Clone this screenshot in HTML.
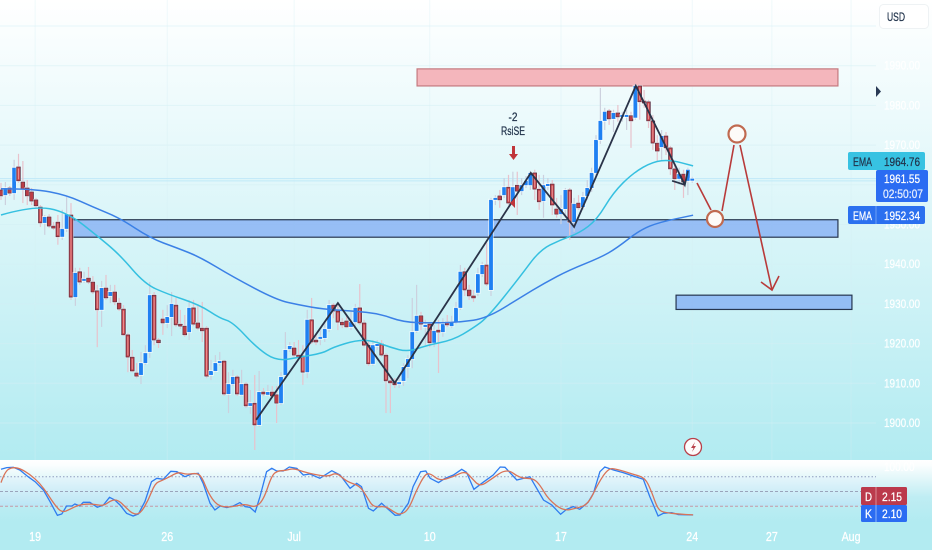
<!DOCTYPE html>
<html lang="en">
<head>
<meta charset="utf-8">
<title>Gold price chart with EMA and Stochastic</title>
<style>
html,body{margin:0;padding:0;width:932px;height:550px;overflow:hidden;background:#fff}
#wrap{position:relative;width:932px;height:550px;background:linear-gradient(180deg,#ffffff 0,#e8f9fb 140px,#cdf2f6 300px,#b2ebf1 460px,#b2ebf1 550px)}
svg{position:absolute;left:0;top:0;filter:blur(0.35px)}
text{font-family:"Liberation Sans",sans-serif;font-size:12px}
.dk text{stroke:#22344c;stroke-width:.25px}
.wh text{stroke:#ffffff;stroke-width:.25px}
</style>
</head>
<body>
<div id="wrap">
<svg id="chart" width="932" height="550" viewBox="0 0 932 550">
  <defs>
    <linearGradient id="paneGrad" x1="0" y1="0" x2="0" y2="1">
      <stop offset="0" stop-color="#ffffff"/>
      <stop offset="0.08" stop-color="#fbfefe"/>
      <stop offset="0.6" stop-color="#bfedf3"/>
      <stop offset="1" stop-color="#b2ebf1"/>
    </linearGradient>
    <linearGradient id="bandGrad" x1="0" y1="0" x2="0" y2="1">
      <stop offset="0" stop-color="#e4f5fb"/>
      <stop offset="1" stop-color="#bbe6f5"/>
    </linearGradient>
  </defs>
  <rect x="0" y="460" width="932" height="62" fill="url(#paneGrad)"/>
  <rect x="0" y="477" width="876" height="29" fill="url(#bandGrad)"/>
  <g id="grid"></g>
  <g id="priceLines"></g>
  <g id="zones"></g>
  <g id="candles"></g>
  <g id="emas"></g>
  <g id="zigzags"></g>
  <g id="osc"></g>
  <g id="priceAxis" class="wh"></g>
  <g id="timeAxis" class="wh"></g>

  <g fill="none" stroke="#b83a3a" stroke-width="1.6">
    <line x1="697" y1="183" x2="711" y2="210"/>
    <line x1="722" y1="211" x2="734" y2="145"/>
    <line x1="740" y1="145" x2="772" y2="290"/>
    <polyline points="761,282 772,290 779,276"/>
    <circle cx="715" cy="219" r="8" fill="#fdfbf8" stroke="#c06a50" stroke-width="2.2"/>
    <circle cx="737" cy="134" r="8.5" fill="#fdfbf8" stroke="#c06a50" stroke-width="2.2"/>
  </g>

  <g class="dk">
    <text x="513" y="121" text-anchor="middle" fill="#22344c" textLength="9" lengthAdjust="spacingAndGlyphs">-2</text>
    <text x="513" y="135" text-anchor="middle" fill="#22344c" textLength="24" lengthAdjust="spacingAndGlyphs">RsiSE</text>
    <path d="M512 146h3v8h3l-4.500 6l-4.500-6h3z" fill="#c0353a"/>
    <path d="M515 198v10l-5-5z" fill="#c0353a"/>
  </g>

  <g>
    <circle cx="693" cy="447" r="8.500" fill="#fdfbfb" stroke="#b8404a" stroke-width="1.3"/>
    <path d="M695 442l-4 6h2.500l-1.500 4l4-6h-2.500z" fill="#b8404a"/>
  </g>

  <path d="M876 86l5 5.500l-5 5.500z" fill="#2a3a55"/>

  <g class="dk">
    <rect x="879.500" y="4.500" width="49" height="24" rx="4" fill="#fff" stroke="#eef2f4" style="stroke:#eef2f4"/>
    <text x="887" y="21" fill="#22344c" textLength="18" lengthAdjust="spacingAndGlyphs">USD</text>
  </g>

  <g class="dk">
    <rect x="848" y="152" width="77" height="18" rx="2" fill="#37c2e2"/>
    <text x="853" y="166" fill="#22344c" textLength="19" lengthAdjust="spacingAndGlyphs">EMA</text>
    <text x="884" y="166" fill="#22344c" textLength="36" lengthAdjust="spacingAndGlyphs">1964.76</text>
  </g>
  <g class="wh">
    <rect x="848" y="206" width="77" height="18" rx="2" fill="#2b70ef"/>
    <line x1="876" y1="206" x2="876" y2="224" stroke="#6ea0f5"/>
    <text x="853" y="220" fill="#fff" textLength="19" lengthAdjust="spacingAndGlyphs">EMA</text>
    <text x="884" y="220" fill="#fff" textLength="36" lengthAdjust="spacingAndGlyphs">1952.34</text>
  </g>
  <g class="wh">
    <rect x="876" y="170" width="52" height="32" rx="2" fill="#2b6cf2"/>
    <text x="884" y="183" fill="#fff" textLength="36" lengthAdjust="spacingAndGlyphs">1961.55</text>
    <text x="883" y="198" fill="#d6e4fd" textLength="40" lengthAdjust="spacingAndGlyphs">02:50:07</text>
  </g>
  <g class="wh">
    <rect x="861" y="487" width="46" height="18" rx="1.500" fill="#bb3a4c"/>
    <line x1="876" y1="487" x2="876" y2="505" stroke="#d98a95"/>
    <text x="865" y="501" fill="#fff" textLength="7" lengthAdjust="spacingAndGlyphs">D</text>
    <text x="882" y="501" fill="#fff" textLength="20" lengthAdjust="spacingAndGlyphs">2.15</text>
  </g>
  <g class="wh">
    <rect x="861" y="505" width="46" height="17" rx="1.500" fill="#2b6cf2"/>
    <line x1="876" y1="505" x2="876" y2="522" stroke="#8db3f8"/>
    <text x="865" y="518" fill="#fff" textLength="7" lengthAdjust="spacingAndGlyphs">K</text>
    <text x="882" y="518" fill="#fff" textLength="20" lengthAdjust="spacingAndGlyphs">2.10</text>
  </g>
</svg>
</div>
<script>
var opens=[
1958.7,1957.4,1959.2,1957.9,1964.5,1960.7,1959.2,1958.2,1956.2,1954.4,
1950.4,1951.9,1949.6,1950.6,1946.9,1948.9,1952.4,1931.7,1938.1,1935.8,
1936.5,1935.5,1933.3,1928.5,1934,1932,1933,1930.2,1928.7,1922.2,
1916.6,1912.6,1912.1,1915.1,1917.9,1932.2,1920.9,1926.2,1925.2,1926.7,
1929.7,1924.9,1924.4,1922.9,1929,1925.2,1923.9,1923.9,1912.1,1913.1,
1915.1,1915.6,1907.3,1909.8,1911.6,1907.1,1909.8,1904.3,1905,1899.5,
1907.8,1907.1,1907.8,1907.1,1905,1912.1,1918.6,1918.9,1917.1,1916.9,
1912.8,1926,1920.9,1921.2,1921.4,1923.7,1929.7,1928.2,1925.4,1925.7,
1924.2,1925.4,1929,1925.2,1919.6,1914.9,1919.4,1919.9,1917.1,1910.6,
1910.3,1910.1,1910.6,1914.1,1916.1,1923.2,1927,1924.2,1924.9,1920.2,
1923.4,1922.9,1925.4,1924.4,1925.4,1929,1938.1,1933.5,1932,1932.8,
1937.5,1939.8,1933.5,1956.2,1957.2,1957.4,1959.4,1955.7,1959.9,1958.4,
1959.9,1959.9,1963,1958.9,1955.9,1959.9,1960.2,1953.9,1952.6,1953.9,
1958.7,1950.6,1955.4,1954.4,1957.2,1959.2,1963,1971.3,1976.1,1978.6,
1976.6,1978.1,1977.1,1977.1,1977.4,1976.9,1984.9,1981.1,1980.9,1976.1,
1970.5,1969.5,1972.3,1969.3,1964,1961.5,1962.7,1961,1961.3];
var closes=[
1957.2,1959.2,1957.9,1964.3,1961,1958.9,1957.2,1955.9,1954.7,1950.4,
1951.9,1949.6,1949.1,1946.9,1948.9,1952.6,1931.7,1937.8,1935.5,1936.3,
1935.5,1933,1928.5,1934,1931.5,1933,1930.5,1928.7,1922.2,1916.6,
1913.1,1911.8,1915.1,1917.6,1932.2,1920.9,1920.2,1925.2,1926.7,1930,
1924.7,1924.4,1922.2,1929,1924.9,1923.9,1923.2,1911.8,1913.1,1915.1,
1915.6,1907.3,1909.8,1911.6,1907.3,1909.8,1904.3,1905,1899.5,1907.8,
1907.3,1907.8,1906.8,1905,1911.6,1918.4,1919.4,1917.1,1916.6,1912.8,
1926,1920.4,1920.4,1921.7,1923.7,1929.7,1928.2,1925.4,1924.7,1924.2,
1925.4,1929,1925.2,1919.6,1914.9,1919.6,1919.9,1917.1,1910.6,1910.1,
1909.6,1910.3,1914.1,1916.1,1922.9,1927,1924.9,1924.7,1920.2,1923.2,
1922.9,1924.9,1924.7,1925.4,1929,1938.1,1933.5,1932,1931.5,1937.5,
1939.8,1935,1956.2,1956.7,1956.2,1959.4,1955.4,1959.4,1958.4,1959.9,
1961,1963,1958.9,1955.7,1959.9,1960.2,1954.9,1952.6,1953.9,1958.7,
1950.6,1955.2,1954.2,1956.9,1959.2,1963,1971.3,1976.1,1978.4,1976.6,
1978.1,1977.1,1977.6,1977.6,1976.1,1984.9,1980.9,1980.6,1976.1,1970.5,
1968.5,1972.3,1969.3,1964,1961.5,1962.7,1960.7,1963.8,1961.55];
var highs=[
1960.5,1960.7,1959.7,1966.3,1967.8,1966,1961.2,1959.2,1956.7,1954.9,
1952.4,1952.6,1950.6,1952.4,1953.7,1956.9,1955.4,1939.1,1939.1,1938.1,
1939.3,1937,1934.8,1935.8,1937.3,1934.8,1934.8,1931.5,1929.7,1922.7,
1918.4,1915.1,1917.9,1919.6,1935.5,1933,1921.4,1928.5,1929.7,1933,
1931.5,1928.5,1927.2,1931,1931,1929.7,1930.5,1924.4,1915.9,1917.1,
1917.9,1915.9,1912.8,1913.4,1912.1,1913.4,1910.3,1908.3,1912.1,1913.1,
1908.8,1909.6,1909.3,1909.3,1912.8,1922.9,1920.4,1920.4,1920.9,1919.6,
1928.5,1931.5,1922.2,1923.4,1925.4,1931,1930.2,1929.7,1926.4,1926.9,
1928,1930,1935,1926,1920.9,1920.9,1920.9,1920.9,1917.6,1911.8,
1911.3,1912.1,1915.1,1917.1,1931.5,1934.8,1928,1926,1925.4,1924.7,
1926,1926.4,1927.2,1927,1930.5,1939.8,1939.1,1934.8,1933.5,1939.1,
1940.6,1945.4,1956.7,1957.4,1958.7,1961.7,1962.5,1963.3,1963.3,1961.7,
1962.2,1963.5,1963.8,1962.5,1962.5,1961.7,1961.2,1956.7,1957.4,1959.2,
1959.2,1956.7,1957.4,1958.2,1961.2,1964.3,1972.5,1984.4,1979.4,1979.1,
1978.9,1980.1,1978.4,1978.9,1978.4,1985.4,1985.4,1983.9,1981.4,1977.6,
1972.5,1973.8,1973.3,1969.8,1965,1964.3,1963.8,1964.3,1962];
var lows=[
1956.2,1954.9,1957.2,1956.2,1960.5,1955.4,1954.9,1954.9,1954.2,1949.4,
1947.4,1949.1,1948.6,1944.9,1946.1,1948.1,1931,1929.5,1934.8,1935.3,
1935,1932.5,1919.1,1924.2,1931,1930.2,1929.7,1928.2,1921.9,1912.8,
1912.8,1911.3,1909.8,1914.6,1916.4,1919.6,1918.9,1922.2,1923.9,1921.9,
1924.2,1923.7,1921.7,1920.9,1924.4,1923.4,1920.4,1911.3,1910.8,1912.8,
1914.4,1906.8,1902.5,1909.3,1906.8,1906.8,1903.8,1902.3,1893.2,1899,
1906.8,1906.8,1906.3,1900,1904.5,1911.3,1917.9,1916.4,1916.1,1909.6,
1911.3,1919.9,1919.6,1919.6,1920.4,1922.9,1926.4,1923.4,1923.9,1923.9,
1923.4,1924.4,1924.7,1919.1,1914.4,1914.4,1918.4,1916.6,1902.5,1902.5,
1908.8,1908.8,1909.3,1911.3,1913.8,1922.7,1923.4,1919.6,1919.1,1919.1,
1912.6,1921.7,1924.2,1923.9,1924.9,1928.5,1932,1931,1930.5,1932,
1936.8,1934.5,1932,1954.9,1954.2,1956.7,1954.9,1954.9,1952.4,1957.4,
1959.2,1958.7,1956.2,1953.7,1951.7,1958.7,1952.4,1951.7,1950.1,1952.4,
1946.1,1948.1,1953.7,1953.7,1956.2,1958.2,1962.2,1970.3,1973.8,1975.1,
1973.3,1975.9,1975.9,1973.8,1969.3,1976.4,1976.4,1979.4,1974.3,1968.8,
1965.8,1966.3,1967.5,1962.5,1958.7,1960,1956.7,1957.4,1960.5];

var emaFastBars=[0,7.3,15,22.6,27.2,32.9,38,45.5,50,53,58.5,63,68.3,73.6,75.9,81.4,85,88.9,93,97.4,103.3,107.9,111.3,118.6,123.2,127.8,132.3,136.2,139.9,144.5,149,152.9,158.2];
var emaFastValues=[1952.4,1954.7,1953.2,1946.6,1942.3,1935,1932.5,1929.7,1926.4,1925.4,1918.9,1915.6,1916.6,1917.6,1919.1,1920.9,1920.7,1919.1,1917.9,1919.6,1920.9,1923.9,1926.7,1936.8,1943.6,1946.1,1947.9,1951.2,1958,1963,1965.8,1966.3,1964.76];
var emaSlowBars=[0,7.3,15,21,27.2,34.1,40.2,45.5,53,63,68.3,73.6,80.5,86.6,91.9,98.7,104.9,111,118.6,124.3,130,136.9,140.8,146,150.6,158.2];
var emaSlowValues=[1959,1959,1957.4,1954.4,1951.6,1946.6,1944.1,1941.8,1936.8,1931,1929.7,1928.7,1928.2,1927.5,1925.4,1925.2,1925.4,1926.4,1931.5,1935.3,1938.6,1941.6,1944.1,1948.6,1950.6,1952.34];

var kBars=[0,1.3,2.8,4.3,6.2,7.8,9.7,11.2,12.9,13.9,15,16.2,16.9,18,18.8,20.3,22,23.4,24.8,26,27.2,28.7,30.2,31.4,32.9,34.4,35.6,37.1,38.8,40.2,42,43.6,45.1,46.2,47.8,48.9,50.1,51.6,53.1,54.6,55.8,56.9,58.1,59.2,60.7,61.9,63,64.5,65.9,67.6,69.1,70.6,72.9,75.6,77.5,79.8,81.3,82.4,84,85.1,87,88.5,90.1,91.2,93.1,94.2,95.9,97.1,98.1,100,101.5,103.4,105.3,106.4,108.1,110.2,112.5,114.1,115.2,117.9,120.9,124,125.9,127.9,129.3,130.8,132.3,134.2,135.4,136.9,138,140,142.2,144.5,146.8,148.3,150.2,151.4,153.3,154.8,158.2];
var kValues=[95.3,98.7,99.3,93.9,80.3,70.1,53.1,29.3,1.4,4.1,20.5,20.5,24.5,20.5,28,28,17.7,22.5,38.1,32.7,22.5,5.5,0,4.1,29.3,70.1,76.9,74.9,91.2,90.5,80.3,85.7,87.1,66.7,25.9,12.3,20.5,17.1,20.5,27.3,19.1,17.7,8.2,39.5,90.5,97.3,91.9,91.9,100,97.3,83.7,85.7,76.9,92.5,83.7,56.5,66.7,59.9,15.7,10.3,25.9,13.7,1.4,2.1,25.9,59.9,90.5,91.9,76.9,68.1,76.9,83.7,95.3,89.1,54.5,68.7,83.7,100,99.3,73.5,80.3,32.7,22.5,3.5,13.7,19.1,13.7,28,46.3,90.5,100,93.9,88.5,81.7,74.9,39.5,0,5.5,6.9,2.8,2.1];
var dBars=[0,0.9,2.4,4.3,6.6,8.9,10.8,12.3,13.9,15.8,17.7,19.6,21.5,23.4,25.3,26.8,28.7,30.2,31.8,33.7,35.2,36.7,38.6,40.5,42.4,44.7,45.9,47.4,49.3,51.6,53.9,55.8,58.1,60,61.9,63.4,64.9,66.8,69.1,71.4,74.8,76.7,79,82,83.6,85.1,87.8,89.7,91.2,93.1,95,96.9,98.1,100.3,103.4,106.1,107.6,109.5,111.8,115.6,118.6,121.7,123.2,125.1,128.5,131.6,134.2,136.5,138.8,140.7,144.5,147.2,148.7,150.2,151.8,154.8,158.2];
var dValues=[68.1,90.5,99.3,97.3,85.1,66.7,42.9,22.5,6.9,13.7,22.5,24.5,23.9,20.5,32.7,32.7,15.7,4.1,4.1,32.7,66.7,72.1,80.3,89.8,84.4,87.8,80.3,46.3,22.5,17.7,20.5,24.5,17.1,32.7,83.7,92.5,92.5,97.3,90.5,85.1,80.3,89.1,70.1,61.9,39.5,17.1,20.5,8.9,2.1,12.3,53.1,85.1,87.1,71.5,80.3,91.9,76.9,59.9,73.5,97.3,76.9,76.9,63.3,34.1,10.3,15.7,23.9,66.7,97.3,96,85.1,78.3,49.7,12.3,6.9,4.1,2.15];
var oscLevels=[80,50,20];

var priceTicks=[2000,1990,1980,1970,1960,1950,1940,1930,1920,1910,1900];
var priceLabels=["","1990.00","1980.00","1970.00","","1950.00","1940.00","1930.00","1920.00","1910.00","1900.00"];
var timeTickBars=[7.8,38,67,98,128,158,176.2,194.3];
var timeLabels=["19","26","Jul","10","17","24","27","Aug"];
var lastPrice=1961.55;
var prevPrice=1961;

var zoneBarStart=[95.1,16.2,154.3];
var zoneBarEnd=[191.3,191.3,194.5];
var zoneTop=[1989.2,1951.2,1932.2];
var zoneBottom=[1984.9,1946.8,1928.6];
var zoneFill=["#f4b6bc","#7da9f4","#7da9f4"];
var zoneStroke=["#c47a80","#263650","#263650"];
var zoneOpacity=[1,0.72,0.72];

var zigzagBars=[58.3,77,90,121.1,131,145.1,156.3,157];
var zigzagPrices=[1900.8,1930.2,1910.1,1963,1949.4,1984.9,1960,1963.5];
var hookBars=[153.4,156.3];
var hookPrices=[1961,1960];

var NS='http://www.w3.org/2000/svg';
function xScale(bar){return 1+bar*4.375;}
function yScale(price){return 423-(price-1900)*3.97;}
function oscY(v){return 516-v*0.49;}
function mk(tag,parent){var e=document.createElementNS(NS,tag);parent.appendChild(e);return e;}
function attrs(e,o){for(var k in o){e.setAttribute(k,o[k]);}return e;}
function pathFrom(bars,vals,yFn){
  var d='';
  for(var i=0;i<bars.length;i++){d+=(i?'L':'M')+xScale(bars[i]).toFixed(1)+' '+yFn(vals[i]).toFixed(1);}
  return d;
}
function smoothFrom(bars,vals,yFn){
  var n=bars.length;
  var d='M'+xScale(bars[0]).toFixed(1)+' '+yFn(vals[0]).toFixed(1);
  for(var i=1;i<n-1;i++){
    var x=xScale(bars[i]),y=yFn(vals[i]);
    var mx=(x+xScale(bars[i+1]))/2,my=(y+yFn(vals[i+1]))/2;
    d+='Q'+x.toFixed(1)+' '+y.toFixed(1)+' '+mx.toFixed(1)+' '+my.toFixed(1);
  }
  d+='L'+xScale(bars[n-1]).toFixed(1)+' '+yFn(vals[n-1]).toFixed(1);
  return d;
}
function condense(t,f){
  var w=t.getComputedTextLength()*f;
  t.setAttribute('textLength',w.toFixed(1));
  t.setAttribute('lengthAdjust','spacingAndGlyphs');
}

var grid=document.getElementById('grid');
priceTicks.forEach(function(p){
  var l=mk('line',grid);
  
  
  attrs(l,{x1:0,x2:876,y1:yScale(p),y2:yScale(p),stroke:'#d4eff4','stroke-opacity':0.55,'stroke-width':1});
});
timeTickBars.forEach(function(b){
  var l=mk('line',grid);
  
  
  attrs(l,{x1:xScale(b),x2:xScale(b),y1:0,y2:460,stroke:'#d4eff4','stroke-opacity':0.35,'stroke-width':1});
});
[lastPrice,prevPrice].forEach(function(p){
  var l=mk('line',document.getElementById('priceLines'));
  
  
  attrs(l,{x1:0,x2:876,y1:yScale(p),y2:yScale(p),stroke:'#bfe9f8','stroke-width':1});
});

var zonesG=document.getElementById('zones');
zoneTop.forEach(function(t,i){
  var r=mk('rect',zonesG);
  
  
  attrs(r,{x:xScale(zoneBarStart[i]),y:yScale(t),width:xScale(zoneBarEnd[i])-xScale(zoneBarStart[i]),height:yScale(zoneBottom[i])-yScale(t),fill:zoneFill[i],'fill-opacity':zoneOpacity[i]});
  var s=mk('rect',zonesG);
  
  
  attrs(s,{x:xScale(zoneBarStart[i]),y:yScale(t),width:xScale(zoneBarEnd[i])-xScale(zoneBarStart[i]),height:yScale(zoneBottom[i])-yScale(t),fill:'none',stroke:zoneStroke[i],'stroke-width':1.2});
});

var candlesG=document.getElementById('candles');
opens.forEach(function(o,i){
  var c=closes[i],up=c>=o,x=xScale(i);
  var top=yScale(Math.max(o,c)),bot=yScale(Math.min(o,c)),h=Math.max(bot-top,2);
  var w=mk('line',candlesG);
  
  
  attrs(w,{x1:x,x2:x,y1:yScale(highs[i]),y2:yScale(lows[i]),stroke:up?'#ccd0de':'#e8c2cc','stroke-width':1.2});
  var halo=mk('rect',candlesG);
  
  
  attrs(halo,{x:x-2.8,y:top-1,width:5.6,height:h+2,fill:'#fff','fill-opacity':0.6});
  var b=mk('rect',candlesG);
  
  
  attrs(b,{x:x-1.9,y:top,width:3.8,height:h,fill:up?'#1f80f2':'#bb3e46',stroke:up?'none':'#4a2a40','stroke-width':up?0:0.6});
  if(!up&&h>10){
    var inner=mk('rect',candlesG);
    
    
    attrs(inner,{x:x-0.6,y:top+1.5,width:1.2,height:h-3,fill:'#ea8f90'});
  }
});

var emasG=document.getElementById('emas');
var ef=mk('path',emasG);


attrs(ef,{d:smoothFrom(emaFastBars,emaFastValues,yScale),fill:'none',stroke:'#35c0e0','stroke-width':1.5});
var es=mk('path',emasG);


attrs(es,{d:smoothFrom(emaSlowBars,emaSlowValues,yScale),fill:'none',stroke:'#3b80e6','stroke-width':1.5});

var zz=document.getElementById('zigzags');
var z1=mk('path',zz);


attrs(z1,{d:pathFrom(zigzagBars,zigzagPrices,yScale),fill:'none',stroke:'#2a3348','stroke-width':1.8,'stroke-linejoin':'miter'});
var z2=mk('path',zz);


attrs(z2,{d:pathFrom(hookBars,hookPrices,yScale),fill:'none',stroke:'#2a3348','stroke-width':1.8});

var oscG=document.getElementById('osc');
oscLevels.forEach(function(v,i){
  var l=mk('line',oscG);
  
  
  attrs(l,{x1:0,x2:876,y1:oscY(v),y2:oscY(v),stroke:i===0?'#8f9cc0':(i===1?'#9aa4bb':'#c59aa8'),'stroke-width':1,'stroke-dasharray':i===0?'1.5 2':'3 2'});
});
var kl=mk('path',oscG);


attrs(kl,{d:pathFrom(kBars,kValues,oscY),fill:'none',stroke:'#2f7cf0','stroke-width':1.3});
var dl=mk('path',oscG);


attrs(dl,{d:smoothFrom(dBars,dValues,oscY),fill:'none',stroke:'#d97358','stroke-width':1.3});

var pa=document.getElementById('priceAxis');
priceTicks.forEach(function(p,i){
  if(!priceLabels[i]){return;}
  var t=mk('text',pa);
  
  
  attrs(t,{x:884,y:yScale(p)+4,fill:'#ffffff','fill-opacity':0.92});
  t.textContent=priceLabels[i];
  condense(t,0.83);
});
var paneTick=mk('text',pa);


attrs(paneTick,{x:884,y:471,fill:'#ffffff'});
paneTick.textContent='100.00';
condense(paneTick,0.83);

var ta=document.getElementById('timeAxis');
timeLabels.forEach(function(s,i){
  var t=mk('text',ta);
  
  
  attrs(t,{x:xScale(timeTickBars[i]),y:541,fill:'#ffffff','text-anchor':'middle','font-size':13});
  t.style.fontSize='13px';
  t.textContent=s;
  condense(t,0.82);
});
</script>
</body>
</html>
